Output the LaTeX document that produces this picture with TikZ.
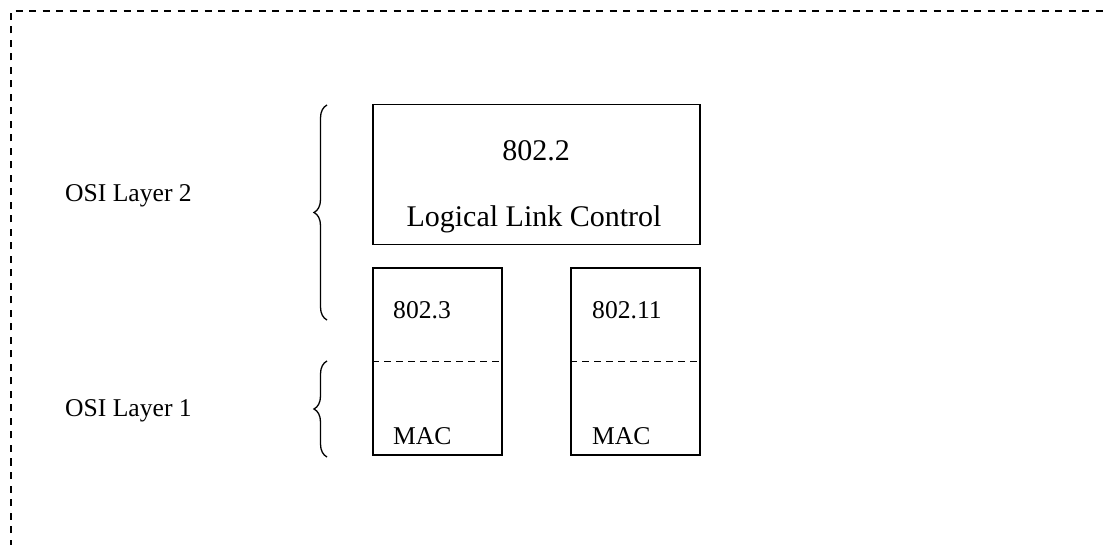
\documentclass[tikz,border=0pt]{standalone}
\usepackage{fontspec}
\setmainfont{Liberation Serif}
\usetikzlibrary{decorations.pathreplacing}
\begin{document}
\begin{tikzpicture}[x=1pt,y=-1pt,
  boxline/.style={line width=1.5pt},
  layerbox/.style={boxline,draw,rectangle,inner sep=0pt},
  smalltext/.style={font=\fontsize{25.6}{30}\selectfont,inner sep=0pt},
  bigtext/.style={font=\fontsize{30}{36}\selectfont,inner sep=0pt},
  bordash/.style={line width=1.4pt,dash pattern=on 7pt off 6.5pt},
  innerdash/.style={line width=1.6pt,dash pattern=on 7pt off 5pt},
  bracestyle/.style={line width=1.3pt,decorate,decoration={brace,amplitude=13pt}}]
\useasboundingbox (0,0) rectangle (1104,545);
% outer dashed frame
\coordinate (fbl) at (11,560);
\coordinate (ftl) at (11,11);
\coordinate (ftr) at (1120,11);
\begin{scope}
\clip (0,0) rectangle (1104,545);
\draw[bordash] (fbl) -- (ftl) -- (ftr);
\end{scope}
% boxes
\node[layerbox,minimum width=327pt,minimum height=140pt] (llc) at (536.5,174.5) {};
\node[layerbox,minimum width=129pt,minimum height=187pt] (b3) at (437.5,361.5) {};
\node[layerbox,minimum width=129pt,minimum height=187pt] (b11) at (635.5,361.5) {};
\draw[innerdash] (b3.west) -- (b3.east);
\draw[innerdash] (b11.west) -- (b11.east);
% texts
\node[bigtext] (t8022) at (536,151) {802.2};
\node[bigtext] (tllc) at (534,219) {Logical Link Control};
\node[smalltext,anchor=base west] (t8023) at (393,319) {802.3};
\node[smalltext,anchor=base west] (tmac1) at (393,445) {MAC};
\node[smalltext,anchor=base west] (t80211) at (592,319) {802.11};
\node[smalltext,anchor=base west] (tmac2) at (592,445) {MAC};
\node[smalltext,anchor=base west] (osi2) at (65,202) {OSI Layer 2};
\node[smalltext,anchor=base west] (osi1) at (65,417) {OSI Layer 1};
% braces
\coordinate (b2top) at (327,105);
\coordinate (b2bot) at (327,320);
\coordinate (b1top) at (327,361);
\coordinate (b1bot) at (327,457);
\draw[bracestyle] (b2bot) -- (b2top);
\draw[bracestyle] (b1bot) -- (b1top);
\end{tikzpicture}
\end{document}
